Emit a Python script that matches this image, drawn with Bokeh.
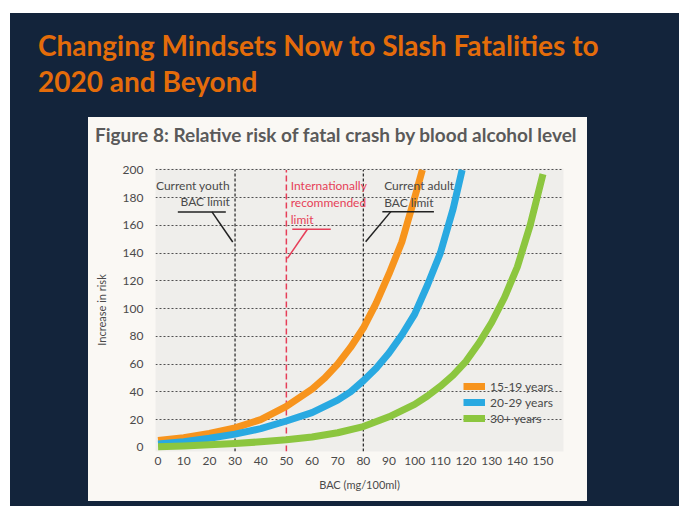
from bokeh.plotting import figure
from bokeh.models import Div, Legend, LegendItem, FixedTicker
from bokeh.layouts import column
from bokeh.core.properties import value
from bokeh.embed import file_html
from bokeh.resources import INLINE

# ---------------- data ----------------
slide_title = "Changing Mindsets Now to Slash Fatalities to<br>2020 and Beyond"
chart_title = "Figure 8: Relative risk of fatal crash by blood alcohol level"
x_label = "BAC (mg/100ml)"
y_label = "Increase in risk"
x_ticks = [0, 10, 20, 30, 40, 50, 60, 70, 80, 90, 100, 110, 120, 130, 140, 150]
y_ticks = [0, 20, 40, 60, 80, 100, 120, 140, 160, 180, 200]
grid_ticks = [20, 40, 60, 80, 100, 120, 140, 160, 180, 200]

series_names = ["15-19 years", "20-29 years", "30+ years"]
orange_x = [0, 10, 20, 30, 40, 50, 60, 65, 70, 75, 80, 85, 90, 95, 100, 103]
orange_y = [5, 7, 10, 14, 20, 29.5, 42, 50, 60, 72, 86, 104, 125, 148, 180, 200]
blue_x = [0, 10, 20, 30, 40, 50, 60, 70, 75, 80, 85, 90, 95, 100, 105, 110, 115, 118.5]
blue_y = [2.5, 4, 6.5, 9.5, 13.5, 19, 25, 34, 40, 48, 57, 68, 81, 96, 117, 140, 172, 200]
green_x = [0, 10, 20, 30, 40, 50, 60, 70, 80, 90, 100, 105, 110, 115, 120, 125, 130, 135, 140, 145, 150]
green_y = [0.5, 1, 1.8, 2.7, 4, 5.5, 7.5, 10.5, 15, 22, 31, 37, 44, 52, 62, 75, 90, 108, 130, 160, 197]

limit_black_x = [30, 80]
limit_red_x = [50]

# annotation texts (data coordinates)
youth_text = ["Current youth", "BAC limit"]
youth_tx = [28.0, 28.0]
youth_ty = [188.4, 177.0]
youth_ul_x = [7.7, 26.4]
youth_ul_y = [169.7, 169.7]
youth_lead_x = [21.0, 29.1]
youth_lead_y = [169.7, 148.0]

intl_text = ["Internationally", "recommended", "limit"]
intl_tx = [51.7, 51.7, 51.7]
intl_ty = [188.4, 176.4, 164.4]
intl_ul_x = [52.3, 67.3]
intl_ul_y = [157.2, 157.2]
intl_lead_x = [58.2, 50.4]
intl_lead_y = [157.2, 136.2]

adult_text = ["Current adult", "BAC limit"]
adult_tx = [88.1, 88.1]
adult_ty = [188.4, 176.4]
adult_ul_x = [87.4, 107.5]
adult_ul_y = [169.9, 169.9]
adult_lead_x = [90.7, 80.9]
adult_lead_y = [169.9, 148.2]

# ---------------- styling ----------------
NAVY = "#13243b"
CREAM = "#faf8f4"
ORANGE = "#f7941d"
BLUE = "#29a9e1"
GREEN = "#8cc63f"
RED = "#e63e58"
TXT = "#4a4a4a"

p = figure(
    title=None,
    x_range=(-1, 158), y_range=(-3, 201),
    frame_width=408, frame_height=283,
    min_border_left=67, min_border_right=24, min_border_top=11, min_border_bottom=50,
    output_backend="svg", toolbar_location=None,
    background_fill_color="#efeeeb", border_fill_color=CREAM,
    outline_line_color=None,
)

# axes
for ax in (p.xaxis[0], p.yaxis[0]):
    ax.axis_line_color = None
    ax.major_tick_line_color = None
    ax.minor_tick_line_color = None
    ax.major_tick_out = 0
    ax.major_tick_in = 0
    ax.minor_tick_out = 0
    ax.minor_tick_in = 0
    ax.major_label_text_font = "Lato"
    ax.major_label_text_font_size = "12px"
    ax.major_label_text_color = TXT
    ax.axis_label_text_font = "Lato"
    ax.axis_label_text_font_size = "11px"
    ax.axis_label_text_font_style = "normal"
    ax.axis_label_text_color = TXT
p.xaxis.ticker = FixedTicker(ticks=x_ticks)
p.yaxis.ticker = FixedTicker(ticks=y_ticks)
p.xaxis.axis_label = x_label
p.yaxis.axis_label = y_label
p.xaxis.major_label_standoff = 5
p.yaxis.major_label_standoff = 12
p.xaxis.axis_label_standoff = 10
p.yaxis.axis_label_standoff = 12

p.xgrid.grid_line_color = None
p.ygrid.ticker = FixedTicker(ticks=grid_ticks)
p.ygrid.grid_line_color = "#505050"
p.ygrid.grid_line_dash = "2 2"
p.ygrid.grid_line_width = 1.1

# limit lines
p.segment(x0=limit_black_x, y0=[-3] * len(limit_black_x), x1=limit_black_x, y1=[200] * len(limit_black_x),
          line_color="#333333", line_dash="3 2", line_width=1.3)
p.segment(x0=limit_red_x, y0=[-3], x1=limit_red_x, y1=[200],
          line_color=RED, line_dash="6 3", line_width=1.5)

# curves
r_o = p.line(orange_x, orange_y, line_color=ORANGE, line_width=7, line_join="round")
r_b = p.line(blue_x, blue_y, line_color=BLUE, line_width=7, line_join="round")
r_g = p.line(green_x, green_y, line_color=GREEN, line_width=7, line_join="round")

# annotations
p.text(x=youth_tx, y=youth_ty, text=youth_text, text_align="right", text_baseline="middle",
       text_font=value("Lato"), text_font_size="12px", text_color=TXT)
p.line(youth_ul_x, youth_ul_y, line_color="#222222", line_width=1.5)
p.line(youth_lead_x, youth_lead_y, line_color="#222222", line_width=1.5)

p.text(x=intl_tx, y=intl_ty, text=intl_text, text_align="left", text_baseline="middle",
       text_font=value("Lato"), text_font_size="12px", text_color=RED)
p.line(intl_ul_x, intl_ul_y, line_color=RED, line_width=1.5)
p.line(intl_lead_x, intl_lead_y, line_color=RED, line_width=1.5)

p.text(x=adult_tx, y=adult_ty, text=adult_text, text_align="left", text_baseline="middle",
       text_font=value("Lato"), text_font_size="12px", text_color=TXT)
p.line(adult_ul_x, adult_ul_y, line_color="#222222", line_width=1.5)
p.line(adult_lead_x, adult_lead_y, line_color="#222222", line_width=1.5)

legend = Legend(
    items=[LegendItem(label=series_names[0], renderers=[r_o]),
           LegendItem(label=series_names[1], renderers=[r_b]),
           LegendItem(label=series_names[2], renderers=[r_g])],
    location=(308, 25), orientation="vertical",
    background_fill_alpha=0, border_line_alpha=0,
    padding=0, margin=0, spacing=0,
    label_height=16, glyph_height=16, glyph_width=22, label_standoff=5,
    label_text_font="Lato", label_text_font_size="12px", label_text_color=TXT,
)
p.add_layout(legend, "center")

chart_title_div = Div(
    text=chart_title, width=490, height=34, margin=(6, 0, 0, 7),
    styles={"color": "#5a5a5a", "font-family": "Lato", "font-weight": "bold",
            "font-size": "19px", "line-height": "24px"},
)
panel = column(chart_title_div, p, margin=(0, 0, 0, 78), width=499,
               styles={"background-color": CREAM})

div = Div(
    text=slide_title, width=640, height=90, margin=(14, 0, 0, 28),
    styles={"color": "#e46c0a", "font-family": "Lato", "font-weight": "bold",
            "font-size": "28px", "line-height": "36px"},
)

layout = column(div, panel, margin=(13, 0, 0, 10), width=669, height=493,
                styles={"background-color": NAVY})

open("out.html", "w").write(file_html(layout, INLINE))
